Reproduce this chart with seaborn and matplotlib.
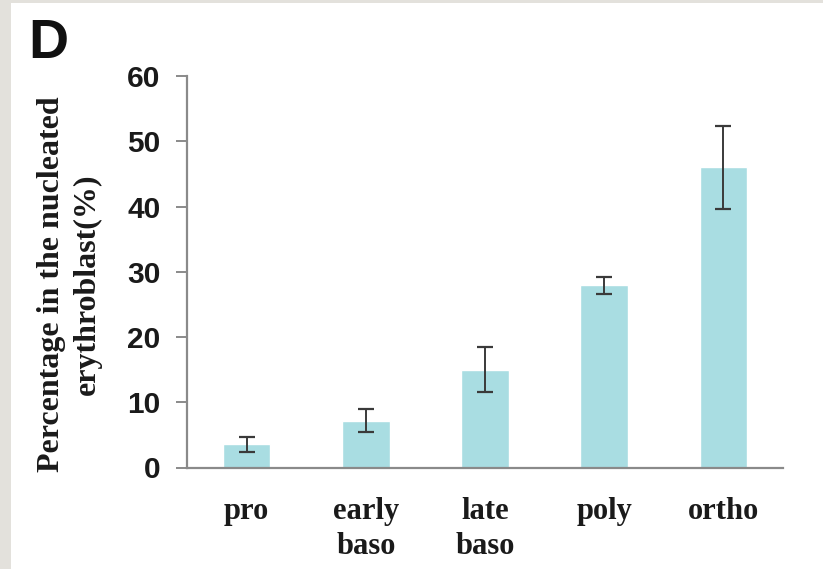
import matplotlib
matplotlib.use("Agg")
import matplotlib.pyplot as plt
import seaborn as sns
import pandas as pd

# Erythroblast maturation stages and their share of nucleated erythroblasts
stages = ["pro", "early\nbaso", "late\nbaso", "poly", "ortho"]
mean_pct = [3.55, 7.2, 15.0, 27.9, 46.0]
sd_pct = [1.15, 1.8, 3.5, 1.35, 6.4]
y_ticks = [0, 10, 20, 30, 40, 50, 60]

df = pd.DataFrame({"stage": stages, "pct": mean_pct})

sns.set_theme(style="white")

fig = plt.figure(figsize=(8.23, 5.69), dpi=100)
fig.patch.set_facecolor("white")

# light gray frame strip on the left and top edges
fig.patches.append(plt.Rectangle((0, 0), 11 / 823, 1, transform=fig.transFigure,
                                 facecolor="#e3e1dc", edgecolor="none", zorder=0))
fig.patches.append(plt.Rectangle((0, 1 - 3 / 569), 1, 3 / 569, transform=fig.transFigure,
                                 facecolor="#e3e1dc", edgecolor="none", zorder=0))

ax = fig.add_axes([187 / 823, 1 - 467.5 / 569, (783 - 187) / 823, (467.5 - 76) / 569])

sns.barplot(data=df, x="stage", y="pct", color="#a9dde2", saturation=1,
            width=0.4, errorbar=None, ax=ax)
ax.errorbar(range(len(stages)), mean_pct, yerr=sd_pct, fmt="none",
            ecolor="#3a3a3a", elinewidth=1.4, capsize=6, capthick=1.6, zorder=5)

ax.set_xlim(-0.5, len(stages) - 0.5)
ax.set_ylim(0, 60)
ax.set_yticks(y_ticks)
ax.set_xlabel("")
ax.set_ylabel("")

for side in ("top", "right"):
    ax.spines[side].set_visible(False)
for side in ("left", "bottom"):
    ax.spines[side].set_color("#8a8a8a")
    ax.spines[side].set_linewidth(1.6)

ax.tick_params(axis="y", which="major", direction="out", length=8, width=1.4,
               color="#8a8a8a", pad=11, left=True)
ax.tick_params(axis="x", length=0, pad=21)

for lbl in ax.get_yticklabels():
    lbl.set_fontfamily("Liberation Sans")
    lbl.set_fontweight("bold")
    lbl.set_fontsize(21.5)
    lbl.set_color("#1a1a1a")
for lbl in ax.get_xticklabels():
    lbl.set_fontfamily("Liberation Serif")
    lbl.set_fontweight("bold")
    lbl.set_fontsize(22)
    lbl.set_color("#1a1a1a")
    lbl.set_linespacing(1.3)
    lbl.set_verticalalignment("top")

fig.text(52 / 823, 1 - 284 / 569, "Percentage in the nucleated",
         rotation=90, ha="center", va="center", fontsize=23,
         fontfamily="Liberation Serif", fontweight="bold", color="#1a1a1a")
fig.text(87 / 823, 1 - 284 / 569, "erythroblast(%)",
         rotation=90, ha="center", va="center", fontsize=23,
         fontfamily="Liberation Serif", fontweight="bold", color="#1a1a1a")

fig.text(28 / 823, 1 - 58 / 569, "D", ha="left", va="baseline", fontsize=40,
         fontfamily="Liberation Sans", fontweight="bold", color="#111111")

fig.savefig("out.png", dpi=100)
